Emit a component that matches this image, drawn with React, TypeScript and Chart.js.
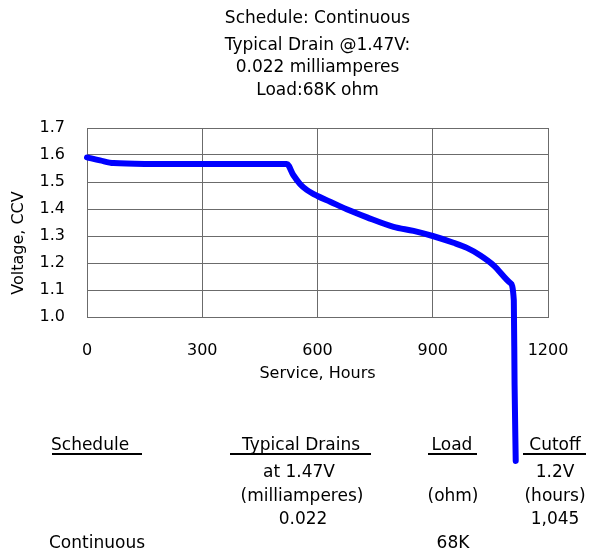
import React, { useEffect, useRef } from 'react';
import { Chart, registerables } from 'chart.js';

Chart.register(...registerables);

// ---- data ----
const titleText = 'Schedule: Continuous';
const subtitleLines = ['Typical Drain @1.47V:', '0.022 milliamperes', 'Load:68K ohm'];
const xAxisTitle = 'Service, Hours';
const yAxisTitle = 'Voltage, CCV';
const xTicks = [0, 300, 600, 900, 1200];
const yTicks = [1.0, 1.1, 1.2, 1.3, 1.4, 1.5, 1.6, 1.7];

const hours = [0, 34, 69, 150, 300, 450, 520, 537, 555, 572, 600, 633, 676, 729, 798, 850, 900, 954, 989, 1023, 1058, 1102, 1111, 1113, 1116];
const volts = [1.591, 1.58, 1.57, 1.567, 1.567, 1.567, 1.567, 1.526, 1.492, 1.471, 1.448, 1.427, 1.399, 1.369, 1.334, 1.319, 1.3, 1.275, 1.256, 1.229, 1.192, 1.126, 1.062, 0.75, 0.467];

const tableHeaders = ['Schedule', 'Typical Drains', 'Load', 'Cutoff'];
const drainLines = ['at 1.47V', '(milliamperes)', '0.022'];
const loadLines = ['(ohm)', '68K'];
const cutoffLines = ['1.2V', '(hours)', '1,045'];
const scheduleValue = 'Continuous';

const FONT = '"DejaVu Sans", Verdana, sans-serif';

function Txt(props: { text: string; cx?: number; left?: number; cy: number; size?: number }) {
  const size = props.size ?? 17;
  const h = 22;
  const style: React.CSSProperties = {
    position: 'absolute',
    top: props.cy - h / 2,
    height: h,
    lineHeight: h + 'px',
    fontFamily: FONT,
    fontSize: size,
    color: '#000',
    whiteSpace: 'nowrap',
  };
  if (props.cx !== undefined) {
    style.left = props.cx - 150;
    style.width = 300;
    style.textAlign = 'center';
  } else {
    style.left = props.left;
  }
  return <div style={style}>{props.text}</div>;
}

function Rule(props: { x1: number; x2: number; y: number }) {
  return (
    <div
      style={{
        position: 'absolute',
        left: props.x1,
        top: props.y,
        width: props.x2 - props.x1,
        height: 2,
        background: '#000',
      }}
    />
  );
}

export default function App() {
  const ref = useRef<HTMLCanvasElement | null>(null);

  useEffect(() => {
    if (!ref.current) return;
    const gridColor = '#6b6b6b';
    const chart = new Chart(ref.current, {
      type: 'line',
      data: {
        datasets: [
          {
            data: hours.map((h, i) => ({ x: h, y: volts[i] })),
            borderColor: '#0000ff',
            backgroundColor: '#0000ff',
            borderWidth: 6,
            borderCapStyle: 'round',
            borderJoinStyle: 'round',
            pointRadius: 0,
            cubicInterpolationMode: 'monotone',
            clip: false as any,
          },
        ],
      },
      options: {
        responsive: false,
        animation: false,
        layout: { padding: { left: 30, right: 41, top: 128, bottom: 165 } },
        plugins: {
          legend: { display: false },
          tooltip: { enabled: false },
          title: { display: false },
        },
        scales: {
          x: {
            type: 'linear',
            min: 0,
            max: 1200,
            afterBuildTicks: (s: any) => {
              s.ticks = xTicks.map((v) => ({ value: v }));
            },
            afterFit: (s: any) => {
              s.height = 70;
              s.paddingLeft = 0;
              s.paddingRight = 0;
            },
            ticks: {
              color: '#000',
              padding: 24,
              font: { family: FONT, size: 16 },
              maxRotation: 0,
              callback: (v: any) => String(v),
            },
            grid: { color: gridColor, lineWidth: 1, drawTicks: false },
            border: { display: true, color: gridColor },
            title: {
              display: true,
              text: xAxisTitle,
              color: '#000',
              font: { family: FONT, size: 16 },
              padding: { top: 0, bottom: 4 },
            },
          },
          y: {
            type: 'linear',
            min: 1.0,
            max: 1.7,
            afterBuildTicks: (s: any) => {
              s.ticks = yTicks.map((v) => ({ value: v }));
            },
            afterFit: (s: any) => {
              s.width = 57;
            },
            ticks: {
              color: '#000',
              padding: 22,
              font: { family: FONT, size: 16 },
              callback: (v: any) => Number(v).toFixed(1),
            },
            grid: { color: gridColor, lineWidth: 1, drawTicks: false },
            border: { display: true, color: gridColor },
          },
        },
      },
    });
    return () => chart.destroy();
  }, []);

  return (
    <div style={{ position: 'absolute', left: 0, top: 0, width: 589, height: 552, background: '#fff' }}>
      <canvas ref={ref} width={589} height={552} style={{ position: 'absolute', left: 0, top: 0, width: 589, height: 552 }} />
      {/* titles */}
      <Txt text={titleText} cx={317.5} cy={17} />
      <Txt text={subtitleLines[0]} cx={317.5} cy={43.5} />
      <Txt text={subtitleLines[1]} cx={317.5} cy={66} />
      <Txt text={subtitleLines[2]} cx={317.5} cy={88.5} />
      {/* y axis title */}
      <div
        style={{
          position: 'absolute',
          left: 18 - 80,
          top: 243 - 11,
          width: 160,
          height: 22,
          lineHeight: '22px',
          textAlign: 'center',
          fontFamily: FONT,
          fontSize: 16,
          color: '#000',
          transform: 'rotate(-90deg)',
          whiteSpace: 'nowrap',
        }}
      >
        {yAxisTitle}
      </div>
      {/* table */}
      <Txt text={tableHeaders[0]} left={51} cy={444} />
      <Rule x1={52} x2={142} y={453} />
      <Txt text={tableHeaders[1]} cx={301} cy={444} />
      <Rule x1={230} x2={371} y={453} />
      <Txt text={tableHeaders[2]} cx={452} cy={444} />
      <Rule x1={428} x2={477} y={453} />
      <Txt text={tableHeaders[3]} cx={555} cy={444} />
      <Rule x1={523} x2={586} y={453} />
      <Txt text={drainLines[0]} cx={299} cy={471} />
      <Txt text={drainLines[1]} cx={302} cy={495} />
      <Txt text={drainLines[2]} cx={303} cy={518} />
      <Txt text={loadLines[0]} cx={453} cy={495} />
      <Txt text={loadLines[1]} cx={453} cy={542} />
      <Txt text={cutoffLines[0]} cx={555} cy={471} />
      <Txt text={cutoffLines[1]} cx={555} cy={495} />
      <Txt text={cutoffLines[2]} cx={555} cy={518} />
      <Txt text={scheduleValue} left={49} cy={542} />
    </div>
  );
}
